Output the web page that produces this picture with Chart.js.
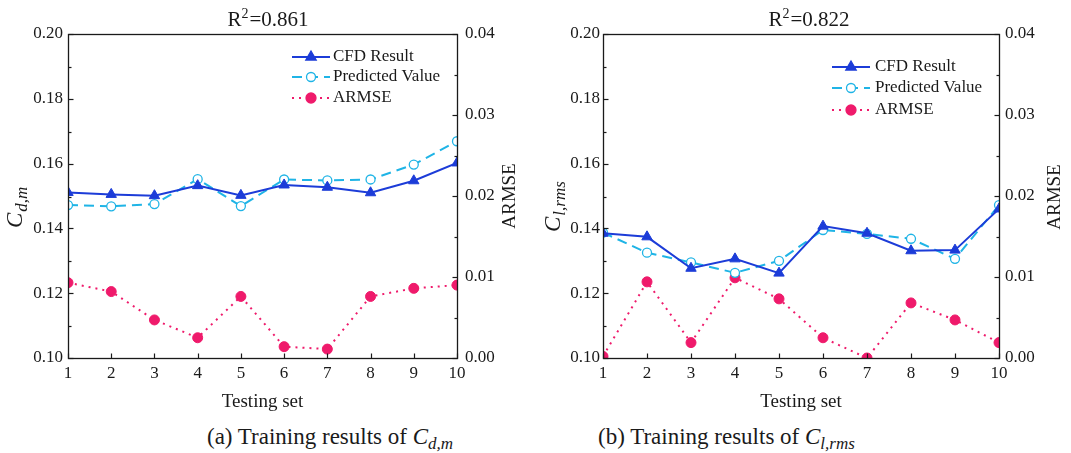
<!DOCTYPE html>
<html>
<head>
<meta charset="utf-8">
<script src="https://cdn.jsdelivr.net/npm/chart.js@4.4.1/dist/chart.umd.min.js"></script>
<style>
  html, body { margin: 0; padding: 0; background: #ffffff; }
  #wrap { position: relative; width: 1071px; height: 453px; overflow: hidden; background: #fff; }
  canvas { position: absolute; top: 0; }
  .cap { position: absolute; top: 423px; font-family: 'Liberation Serif', 'Times New Roman', serif; font-size: 23px; line-height: 28px; color: #1a1a1a; white-space: nowrap; }
  .cap i { font-style: italic; }
  .cap .sub { font-style: italic; font-size: 17px; position: relative; top: 5px; }
</style>
</head>
<body>
<div id="wrap">
  <canvas id="c1" width="540" height="415" style="left:0px"></canvas>
  <canvas id="c2" width="531" height="415" style="left:540px"></canvas>
  <div class="cap" style="left:207px">(a) Training results of <i>C</i><span class="sub">d,m</span></div>
  <div class="cap" style="left:598px">(b) Training results of <i>C</i><span class="sub">l,rms</span></div>
</div>
<script>
const FONT = "'Liberation Serif', 'Times New Roman', serif";
const TEXT = '#1a1a1a';

// ---- data ----
const categories = ['1', '2', '3', '4', '5', '6', '7', '8', '9', '10'];
const seriesNames = ['CFD Result', 'Predicted Value', 'ARMSE'];
const chartR2 = ['0.861', '0.822'];

const cdmCfd   = [0.1511, 0.1505, 0.1501, 0.1532, 0.1502, 0.1534, 0.1527, 0.1510, 0.1547, 0.1602];
const cdmPred  = [0.1472, 0.1468, 0.1475, 0.1552, 0.1469, 0.1551, 0.1548, 0.1551, 0.1597, 0.1669];
const cdmArmse = [0.0093, 0.0082, 0.0047, 0.0025, 0.0076, 0.0014, 0.0011, 0.0076, 0.0086, 0.0090];

const clCfd    = [0.1385, 0.1374, 0.1277, 0.1306, 0.1262, 0.1407, 0.1385, 0.1331, 0.1333, 0.1460];
const clPred   = [0.1387, 0.1325, 0.1295, 0.1263, 0.1300, 0.1395, 0.1383, 0.1368, 0.1306, 0.1472];
const clArmse  = [0.0002, 0.0094, 0.0019, 0.0099, 0.0073, 0.0025, 0.0000, 0.0068, 0.0047, 0.0019];

const leftTickValues  = [0.10, 0.12, 0.14, 0.16, 0.18, 0.20];
const rightTickValues = [0.00, 0.01, 0.02, 0.03, 0.04];

const COLORS = { cfd: '#1c3cd8', pred: '#1fb4e6', armse: '#ef1a6b' };

// ---- plugins ----
function seg(ctx, x1, y1, x2, y2) {
  ctx.beginPath(); ctx.moveTo(x1, y1); ctx.lineTo(x2, y2); ctx.stroke();
}

const frameTicks = {
  id: 'frameTicks',
  afterDatasetsDraw(chart) {
    const { ctx, chartArea: a, scales } = chart;
    ctx.save();
    ctx.strokeStyle = TEXT;
    ctx.lineWidth = 1.3;
    ctx.setLineDash([]);
    ctx.strokeRect(Math.round(a.left) + 0.5, Math.round(a.top) + 0.5,
                   Math.round(a.right - a.left), Math.round(a.bottom - a.top));
    ctx.lineWidth = 1.2;
    const L = Math.round(a.left) + 0.5, R = Math.round(a.right) + 0.5, B = Math.round(a.bottom) + 0.5;
    const yp = scales.y.ticks.map(t => Math.round(scales.y.getPixelForValue(t.value)) + 0.5);
    yp.forEach(p => seg(ctx, L, p, L + 5, p));
    for (let i = 0; i < yp.length - 1; i++) { const m = Math.round((yp[i] + yp[i + 1]) / 2) + 0.5; seg(ctx, L, m, L + 3, m); }
    const rp = scales.y1.ticks.map(t => Math.round(scales.y1.getPixelForValue(t.value)) + 0.5);
    rp.forEach(p => seg(ctx, R, p, R - 5, p));
    for (let i = 0; i < rp.length - 1; i++) { const m = Math.round((rp[i] + rp[i + 1]) / 2) + 0.5; seg(ctx, R, m, R - 3, m); }
    scales.x.ticks.forEach((t, i) => { const px = Math.round(scales.x.getPixelForTick(i)) + 0.5; seg(ctx, px, B, px, B - 5); });
    ctx.restore();
  }
};

const axisTitles = {
  id: 'axisTitles',
  afterDraw(chart, args, o) {
    const ctx = chart.ctx;
    // top title: R^2=value with a real superscript
    ctx.save();
    ctx.fillStyle = TEXT;
    ctx.textBaseline = 'alphabetic';
    ctx.textAlign = 'left';
    const big = '21px ' + FONT, small = '14px ' + FONT;
    ctx.font = big; const wR = ctx.measureText('R').width; const wRest = ctx.measureText('=' + o.r2).width;
    ctx.font = small; const w2 = ctx.measureText('2').width;
    let x = o.titleX - (wR + w2 + 1 + wRest) / 2;
    ctx.font = big; ctx.fillText('R', x, o.titleY); x += wR;
    ctx.font = small; ctx.fillText('2', x, o.titleY - 8); x += w2 + 1;
    ctx.font = big; ctx.fillText('=' + o.r2, x, o.titleY);
    ctx.restore();
    // left rotated title with subscript
    ctx.save();
    ctx.fillStyle = TEXT;
    ctx.translate(o.leftX, o.leftY);
    ctx.rotate(-Math.PI / 2);
    ctx.textBaseline = 'alphabetic';
    ctx.textAlign = 'left';
    ctx.font = 'italic 23px ' + FONT;
    ctx.fillText(o.main, 0, 0);
    const w = ctx.measureText(o.main).width;
    ctx.font = 'italic 17px ' + FONT;
    ctx.fillText(o.sub, w + 1, 5);
    ctx.restore();
    // right rotated title
    ctx.save();
    ctx.fillStyle = TEXT;
    ctx.translate(o.rightX, o.rightY);
    ctx.rotate(-Math.PI / 2);
    ctx.textAlign = 'center';
    ctx.textBaseline = 'alphabetic';
    ctx.font = '19px ' + FONT;
    ctx.fillText(o.right, 0, 0);
    ctx.restore();
  }
};

function drawMarker(ctx, style, x, y, r, color, fill) {
  ctx.save();
  ctx.setLineDash([]);
  ctx.strokeStyle = color;
  ctx.fillStyle = fill;
  ctx.lineWidth = 1.3;
  ctx.beginPath();
  if (style === 'triangle') {
    for (let k = 0; k < 3; k++) {
      const ang = k * 2 * Math.PI / 3;
      const px = x + Math.sin(ang) * r, py = y - Math.cos(ang) * r;
      if (k === 0) ctx.moveTo(px, py); else ctx.lineTo(px, py);
    }
    ctx.closePath();
  } else {
    ctx.arc(x, y, r, 0, Math.PI * 2);
  }
  ctx.fill();
  ctx.stroke();
  ctx.restore();
}

const inLegend = {
  id: 'inLegend',
  afterDraw(chart, args, o) {
    const ctx = chart.ctx;
    chart.data.datasets.forEach((ds, i) => {
      const y = o.ys[i];
      ctx.save();
      ctx.strokeStyle = ds.borderColor;
      ctx.lineWidth = ds.borderWidth;
      ctx.setLineDash(ds.borderDash || []);
      seg(ctx, o.x0, y, o.x1, y);
      ctx.restore();
      drawMarker(ctx, ds.pointStyle, (o.x0 + o.x1) / 2, y, ds.pointRadius, ds.pointBorderColor, ds.pointBackgroundColor);
      ctx.save();
      ctx.fillStyle = TEXT;
      ctx.font = '17px ' + FONT;
      ctx.textBaseline = 'middle';
      ctx.textAlign = 'left';
      ctx.fillText(ds.label, o.tx, y);
      ctx.restore();
    });
  }
};

function makeChart(id, cfd, pred, armse, cfg) {
  const tickFont = { family: FONT, size: 17 };
  return new Chart(document.getElementById(id), {
    type: 'line',
    data: {
      labels: categories,
      datasets: [
        { label: seriesNames[0], data: cfd, yAxisID: 'y', borderColor: COLORS.cfd, borderWidth: 2,
          pointStyle: 'triangle', pointRadius: 6, pointBackgroundColor: COLORS.cfd, pointBorderColor: COLORS.cfd,
          pointBorderWidth: 1, clip: 0, tension: 0 },
        { label: seriesNames[1], data: pred, yAxisID: 'y', borderColor: COLORS.pred, borderWidth: 2, borderDash: [10, 6],
          pointStyle: 'circle', pointRadius: 4.5, pointBackgroundColor: '#ffffff', pointBorderColor: COLORS.pred,
          pointBorderWidth: 1.3, clip: 0, tension: 0 },
        { label: seriesNames[2], data: armse, yAxisID: 'y1', borderColor: COLORS.armse, borderWidth: 2, borderDash: [2, 5],
          pointStyle: 'circle', pointRadius: 5, pointBackgroundColor: COLORS.armse, pointBorderColor: COLORS.armse,
          pointBorderWidth: 1, clip: 0, tension: 0 }
      ]
    },
    options: {
      responsive: false,
      animation: false,
      devicePixelRatio: 1,
      layout: { padding: { top: 34, left: 0, right: 0, bottom: 0 } },
      plugins: {
        legend: { display: false },
        tooltip: { enabled: false },
        title: { display: false },
        inLegend: cfg.legend,
        axisTitles: cfg.titles
      },
      scales: {
        x: {
          type: 'category', offset: false,
          grid: { display: false, drawTicks: false }, border: { display: false },
          ticks: { font: tickFont, color: TEXT, padding: 5, maxRotation: 0, autoSkip: false },
          title: { display: true, text: 'Testing set', color: TEXT, font: { family: FONT, size: 19 }, padding: { top: 0, bottom: 1.6 } },
          afterFit: s => { s.height = 57; }
        },
        y: {
          type: 'linear', position: 'left', min: 0.10, max: 0.20,
          afterBuildTicks: s => { s.ticks = leftTickValues.map(v => ({ value: v })); },
          grid: { display: false, drawTicks: false }, border: { display: false },
          ticks: { font: tickFont, color: TEXT, padding: cfg.yPad, callback: v => Number(v).toFixed(2) },
          afterFit: s => { s.width = cfg.yWidth; }
        },
        y1: {
          type: 'linear', position: 'right', min: 0, max: 0.04,
          afterBuildTicks: s => { s.ticks = rightTickValues.map(v => ({ value: v })); },
          grid: { display: false, drawTicks: false }, border: { display: false },
          ticks: { font: tickFont, color: TEXT, padding: cfg.y1Pad, callback: v => Number(v).toFixed(2) },
          afterFit: s => { s.width = cfg.y1Width; }
        }
      }
    },
    plugins: [frameTicks, axisTitles, inLegend]
  });
}

makeChart('c1', cdmCfd, cdmPred, cdmArmse, {
  yWidth: 68, y1Width: 83, yPad: 5, y1Pad: 8,
  legend: { x0: 292, x1: 330, tx: 333, ys: [57, 77, 98] },
  titles: { r2: chartR2[0], titleX: 268, titleY: 26, main: 'C', sub: 'd,m', leftX: 22, leftY: 228, right: 'ARMSE', rightX: 515, rightY: 196 }
});
makeChart('c2', clCfd, clPred, clArmse, {
  yWidth: 63, y1Width: 72, yPad: 3, y1Pad: 6,
  legend: { x0: 292, x1: 330, tx: 335, ys: [67, 88, 110] },
  titles: { r2: chartR2[1], titleX: 269, titleY: 26, main: 'C', sub: 'l,rms', leftX: 20, leftY: 232, right: 'ARMSE', rightX: 520, rightY: 197 }
});
</script>
</body>
</html>
